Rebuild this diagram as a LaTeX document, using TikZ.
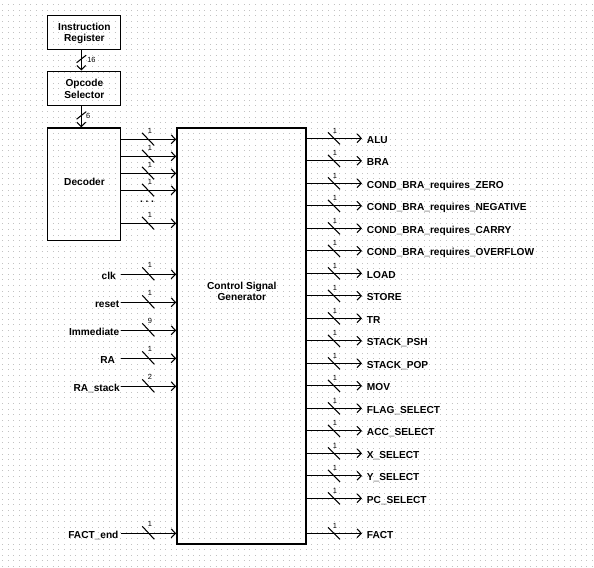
\documentclass[tikz,border=0pt]{standalone}
\usepackage{fontspec}
\setmainfont{Liberation Sans}
\usetikzlibrary{arrows.meta,fit,calc}
\begin{document}
\begin{tikzpicture}[x=0.75pt,y=-0.75pt,
  font=\bfseries\fontsize{7.6pt}{8.7pt}\selectfont,
  griddots/.style={line width=0.75pt, black!24, dash pattern=on 0.75pt off 3.4635pt},
  box/.style={draw, line width=1.05pt, inner sep=0pt, align=center},
  boxtext/.style={align=center, inner sep=0pt},
  wire/.style={line width=0.8pt, -{Straight Barb[length=3.2pt,width=6.6pt]}},
  slashline/.style={line width=0.8pt},
  bw/.style={font=\mdseries\fontsize{5.6pt}{6pt}\selectfont, inner sep=0pt},
  lab/.style={inner sep=0pt, text height=0.72em, text depth=0pt}]
\useasboundingbox (0,0) rectangle (594,568);
\fill[white] (0,0) rectangle (594,568);
% dot grid
\foreach \m in {0,...,100}{
  \draw[griddots] (2.2,4.7+5.618*\m) -- (594,4.7+5.618*\m);
}
% boxes
\node[box, fit={(47.7,15.3)(120.7,49.3)}] (IR) {};
\node[boxtext] (irtext) at (84.4,33.2) {Instruction\\Register};
\node[box, fit={(47.7,71.2)(120.7,105.2)}] (OS) {};
\node[boxtext] (ostext) at (84.4,88.6) {Opcode\\Selector};
\node[box, fit={(47.7,128)(120.7,240.3)}] (DEC) {};
\node[lab] (dectext) at (84.5,180.7) {Decoder};
\node[box, fit={(176.9,128)(306.1,544)}] (CSG) {};
\node[boxtext] (csgtext) at (241.8,291.5) {Control Signal\\Generator};
% vertical buses
\coordinate (v) at (81.3,0);
\draw[wire] (IR.south -| v) -- (OS.north -| v);
\draw[slashline] (81.3-4.7,59+3.7) -- (81.3+4.7,59-3.7);
\node[bw, anchor=west] (b16) at (87,60) {16};
\draw[wire] (OS.south -| v) -- (DEC.north -| v);
\draw[slashline] (81.3-4.7,115.5+3.7) -- (81.3+4.7,115.5-3.7);
\node[bw] (b6) at (88.3,116) {6};
% decoder outputs
\foreach \yy [count=\i] in {139.3,156.3,173.3,190.3,223.3}{
  \coordinate (d\i) at (0,\yy);
  \draw[wire] (DEC.east |- d\i) -- (CSG.west |- d\i);
  \draw[slashline] (148-6,\yy-6.5) -- (148+6,\yy+6);
  \node[bw] (db\i) at (150,\yy-8.5) {1};
}
\node[anchor=base, inner sep=0pt] (dots) at (147,202.5) {.\hspace{2pt}.\hspace{2pt}.};
% inputs
\foreach \t/\xe/\yy/\w [count=\i] in {clk/116/274.3/1, reset/119.5/302.3/1, Immediate/119.5/330.3/9, RA/115.3/358.3/1, RA\_stack/120/386.3/2, FACT\_end/118.7/533.3/1}{
  \coordinate (p\i) at (120.5,\yy);
  \node[lab, anchor=east] (in\i) at (\xe,\yy) {\t};
  \draw[wire] (p\i) -- (CSG.west |- p\i);
  \draw[slashline] (148.3-6,\yy-7) -- (148.3+6,\yy+6);
  \node[bw] (ib\i) at (150,\yy-9) {\w};
}
% outputs
\foreach \t/\yy [count=\i] in {ALU/138.3, BRA/160.8, COND\_BRA\_requires\_ZERO/183.3,
  COND\_BRA\_requires\_NEGATIVE/205.8, COND\_BRA\_requires\_CARRY/228.3,
  COND\_BRA\_requires\_OVERFLOW/250.8, LOAD/273.3, STORE/295.8, TR/318.3,
  STACK\_PSH/340.8, STACK\_POP/363.3, MOV/385.8, FLAG\_SELECT/408.3,
  ACC\_SELECT/430.8, X\_SELECT/453.3, Y\_SELECT/475.8, PC\_SELECT/498.3, FACT/533.3}{
  \coordinate (o\i) at (362,\yy);
  \draw[wire] (CSG.east |- o\i) -- (o\i);
  \node[lab, anchor=west] (out\i) at (366.7,\yy) {\t};
  \draw[slashline] (334-6,\yy-6) -- (334+6,\yy+6);
  \node[bw] (ob\i) at (335,\yy-7.5) {1};
}
\end{tikzpicture}
\end{document}
